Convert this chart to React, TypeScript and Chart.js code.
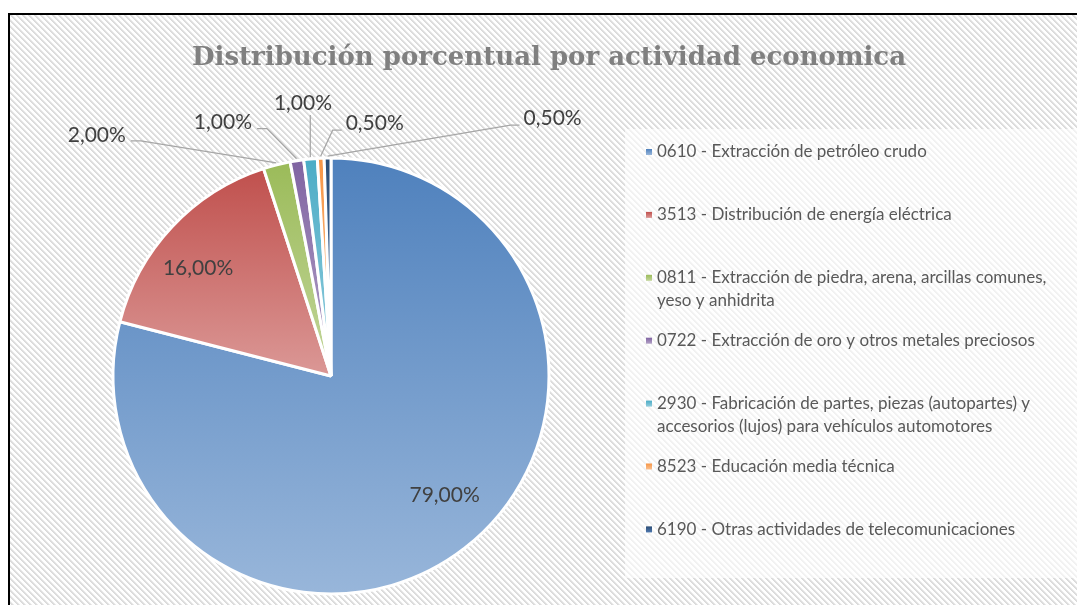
import React, { useEffect, useRef } from 'react';
import { Chart, registerables } from 'chart.js';

Chart.register(...registerables);

const TITLE = 'Distribución porcentual por actividad economica';

const categories = [
  '0610 - Extracción de petróleo crudo',
  '3513 - Distribución de energía eléctrica',
  '0811 - Extracción de piedra, arena, arcillas comunes, yeso y anhidrita',
  '0722 - Extracción de oro y otros metales preciosos',
  '2930 - Fabricación de partes, piezas (autopartes) y accesorios (lujos) para vehículos automotores',
  '8523 - Educación media técnica',
  '6190 - Otras actividades de telecomunicaciones',
];

const percentages = [79, 16, 2, 1, 1, 0.5, 0.5];

const baseColors = ['#4F81BD', '#C0504D', '#9BBB59', '#8064A2', '#4BACC6', '#F79646', '#2C4D75'];
const lightColors = ['#98B6DA', '#DB9896', '#C3D69B', '#B3A2C7', '#93CDDD', '#FAC090', '#4F79B0'];

// label centre offsets relative to the outer mid point of each slice
const labelOffsets: [number, number][] = [
  [-20, -53],
  [26, 41],
  [-180, -30],
  [-74, -38],
  [-7.5, -56],
  [54, -35],
  [225, -40],
];
const leaderSide: (string | null)[] = [null, null, 'right', 'right', 'bottom', 'left', 'left'];

const RADIUS = 218;
const LABEL_FONT = '21px Lato';
const LEGEND_FONT = '17px Lato';
const TITLE_FONT = 'bold 26px "DejaVu Serif"';

function fmt(v: number) {
  return v.toFixed(2).replace('.', ',') + '%';
}

function makePattern(): CanvasPattern | string {
  const s = 6;
  const c = document.createElement('canvas');
  c.width = s;
  c.height = s;
  const g = c.getContext('2d');
  if (!g) return '#eeeeee';
  const img = g.createImageData(s, s);
  for (let y = 0; y < s; y++) {
    for (let x = 0; x < s; x++) {
      const d = (((x - y) % s) + s) % s;
      let v = 255;
      if (d === 0) v = 218;
      else if (d === 1) v = 222;
      else if (d === 2) v = 236;
      const k = (y * s + x) * 4;
      img.data[k] = v;
      img.data[k + 1] = v;
      img.data[k + 2] = v;
      img.data[k + 3] = 255;
    }
  }
  g.putImageData(img, 0, 0);
  const main = document.createElement('canvas').getContext('2d');
  return (main && main.createPattern(c, 'repeat')) || '#eeeeee';
}

function sliceGradient(context: any) {
  const i = context.dataIndex;
  const chart = context.chart;
  const area = chart.chartArea;
  if (!area || context.type !== 'data') return baseColors[i];
  const data: number[] = chart.data.datasets[0].data;
  const total = data.reduce((a, b) => a + b, 0);
  let before = 0;
  for (let k = 0; k < i; k++) before += data[k];
  const a0 = -Math.PI / 2 + (2 * Math.PI * before) / total;
  const a1 = a0 + (2 * Math.PI * data[i]) / total;
  const cy = (area.top + area.bottom) / 2;
  const ys = [cy, cy + RADIUS * Math.sin(a0), cy + RADIUS * Math.sin(a1)];
  for (let k = -2; k <= 4; k++) {
    const a = Math.PI / 2 + k * Math.PI;
    if (a > a0 && a < a1) ys.push(cy + RADIUS * Math.sin(a));
  }
  const top = Math.min(...ys);
  const bottom = Math.max(...ys);
  const g = chart.ctx.createLinearGradient(0, top, 0, Math.max(bottom, top + 1));
  g.addColorStop(0, baseColors[i]);
  g.addColorStop(1, lightColors[i]);
  return g;
}

function wrapText(ctx: CanvasRenderingContext2D, text: string, maxWidth: number) {
  const words = text.split(' ');
  const lines: string[] = [];
  let cur = '';
  for (const w of words) {
    const test = cur ? cur + ' ' + w : w;
    if (ctx.measureText(test).width > maxWidth && cur) {
      lines.push(cur);
      cur = w;
    } else cur = test;
  }
  if (cur) lines.push(cur);
  return lines;
}

export default function App() {
  const ref = useRef<HTMLCanvasElement | null>(null);

  useEffect(() => {
    if (!ref.current) return;
    const pattern = makePattern();

    const bgPlugin = {
      id: 'bgPlugin',
      beforeDraw(chart: any) {
        const { ctx, width, height } = chart;
        ctx.save();
        ctx.fillStyle = pattern;
        ctx.fillRect(0, 0, width, height);
        ctx.fillStyle = 'rgba(255,255,255,0.62)';
        ctx.fillRect(615, 114, width - 615, 449);
        ctx.font = TITLE_FONT;
        ctx.fillStyle = '#808080';
        ctx.textAlign = 'center';
        ctx.textBaseline = 'middle';
        ctx.fillText(TITLE, 539, 43);
        ctx.restore();
      },
    };

    const labelPlugin = {
      id: 'labelPlugin',
      afterDatasetsDraw(chart: any) {
        const { ctx } = chart;
        const meta = chart.getDatasetMeta(0);
        ctx.save();
        ctx.font = LABEL_FONT;
        ctx.textAlign = 'center';
        ctx.textBaseline = 'middle';
        meta.data.forEach((el: any, i: number) => {
          const { x, y, startAngle, endAngle, outerRadius } = el.getProps(
            ['x', 'y', 'startAngle', 'endAngle', 'outerRadius'],
            true
          );
          const mid = (startAngle + endAngle) / 2;
          const ox = x + Math.cos(mid) * outerRadius;
          const oy = y + Math.sin(mid) * outerRadius;
          const [dx, dy] = labelOffsets[i];
          const lx = ox + dx;
          const ly = oy + dy;
          const text = fmt(percentages[i]);
          const w = ctx.measureText(text).width;
          const side = leaderSide[i];
          const px = x + Math.cos(mid) * (outerRadius + 2);
          const py = y + Math.sin(mid) * (outerRadius + 2);
          if (side) {
            ctx.strokeStyle = '#A6A6A6';
            ctx.lineWidth = 1.25;
            ctx.beginPath();
            if (side === 'right') {
              const sx = lx + w / 2 + 5;
              ctx.moveTo(sx, ly + 6);
              ctx.lineTo(sx + 10, ly + 6);
              ctx.lineTo(px, py);
            } else if (side === 'left') {
              const sx = lx - w / 2 - 4;
              ctx.moveTo(sx, ly + 7);
              ctx.lineTo(sx - 9, ly + 7);
              ctx.lineTo(px, py);
            } else {
              ctx.moveTo(px, ly + 12);
              ctx.lineTo(px, py);
            }
            ctx.stroke();
          }
          ctx.fillStyle = '#404040';
          ctx.fillText(text, lx, ly);
        });
        ctx.restore();
      },
    };

    const legendPlugin = {
      id: 'legendPlugin',
      afterDraw(chart: any) {
        const { ctx } = chart;
        ctx.save();
        ctx.font = LEGEND_FONT;
        ctx.textBaseline = 'middle';
        ctx.textAlign = 'left';
        const startY = 137;
        const step = 62.9;
        const lineH = 23;
        categories.forEach((cat, i) => {
          const y0 = startY + i * step;
          const g = ctx.createLinearGradient(0, y0 - 3, 0, y0 + 3);
          g.addColorStop(0, baseColors[i]);
          g.addColorStop(1, lightColors[i]);
          ctx.fillStyle = g;
          ctx.fillRect(636, y0 - 3, 6, 6);
          ctx.fillStyle = '#595959';
          const lines = wrapText(ctx, cat, 402);
          lines.forEach((ln, j) => ctx.fillText(ln, 647, y0 + j * lineH));
        });
        ctx.restore();
      },
    };

    const chart = new Chart(ref.current, {
      type: 'pie',
      data: {
        labels: categories,
        datasets: [
          {
            data: percentages,
            backgroundColor: sliceGradient,
            borderColor: '#FFFFFF',
            borderWidth: 3,
            radius: RADIUS,
          } as any,
        ],
      },
      options: {
        responsive: false,
        animation: false,
        layout: { padding: { left: 0, right: 425, top: 132, bottom: 0 } },
        plugins: {
          legend: { display: false },
          title: { display: false },
          tooltip: { enabled: false },
        },
      },
      plugins: [bgPlugin, labelPlugin, legendPlugin],
    });
    return () => chart.destroy();
  }, []);

  return (
    <div
      style={{
        position: 'fixed',
        left: 8,
        top: 13,
        width: 1069,
        height: 592,
        borderTop: '2px solid #000',
        borderLeft: '2px solid #000',
        boxSizing: 'border-box',
        overflow: 'hidden',
        background: '#fff',
      }}
    >
      <canvas ref={ref} width={1067} height={590} style={{ display: 'block' }} />
    </div>
  );
}
